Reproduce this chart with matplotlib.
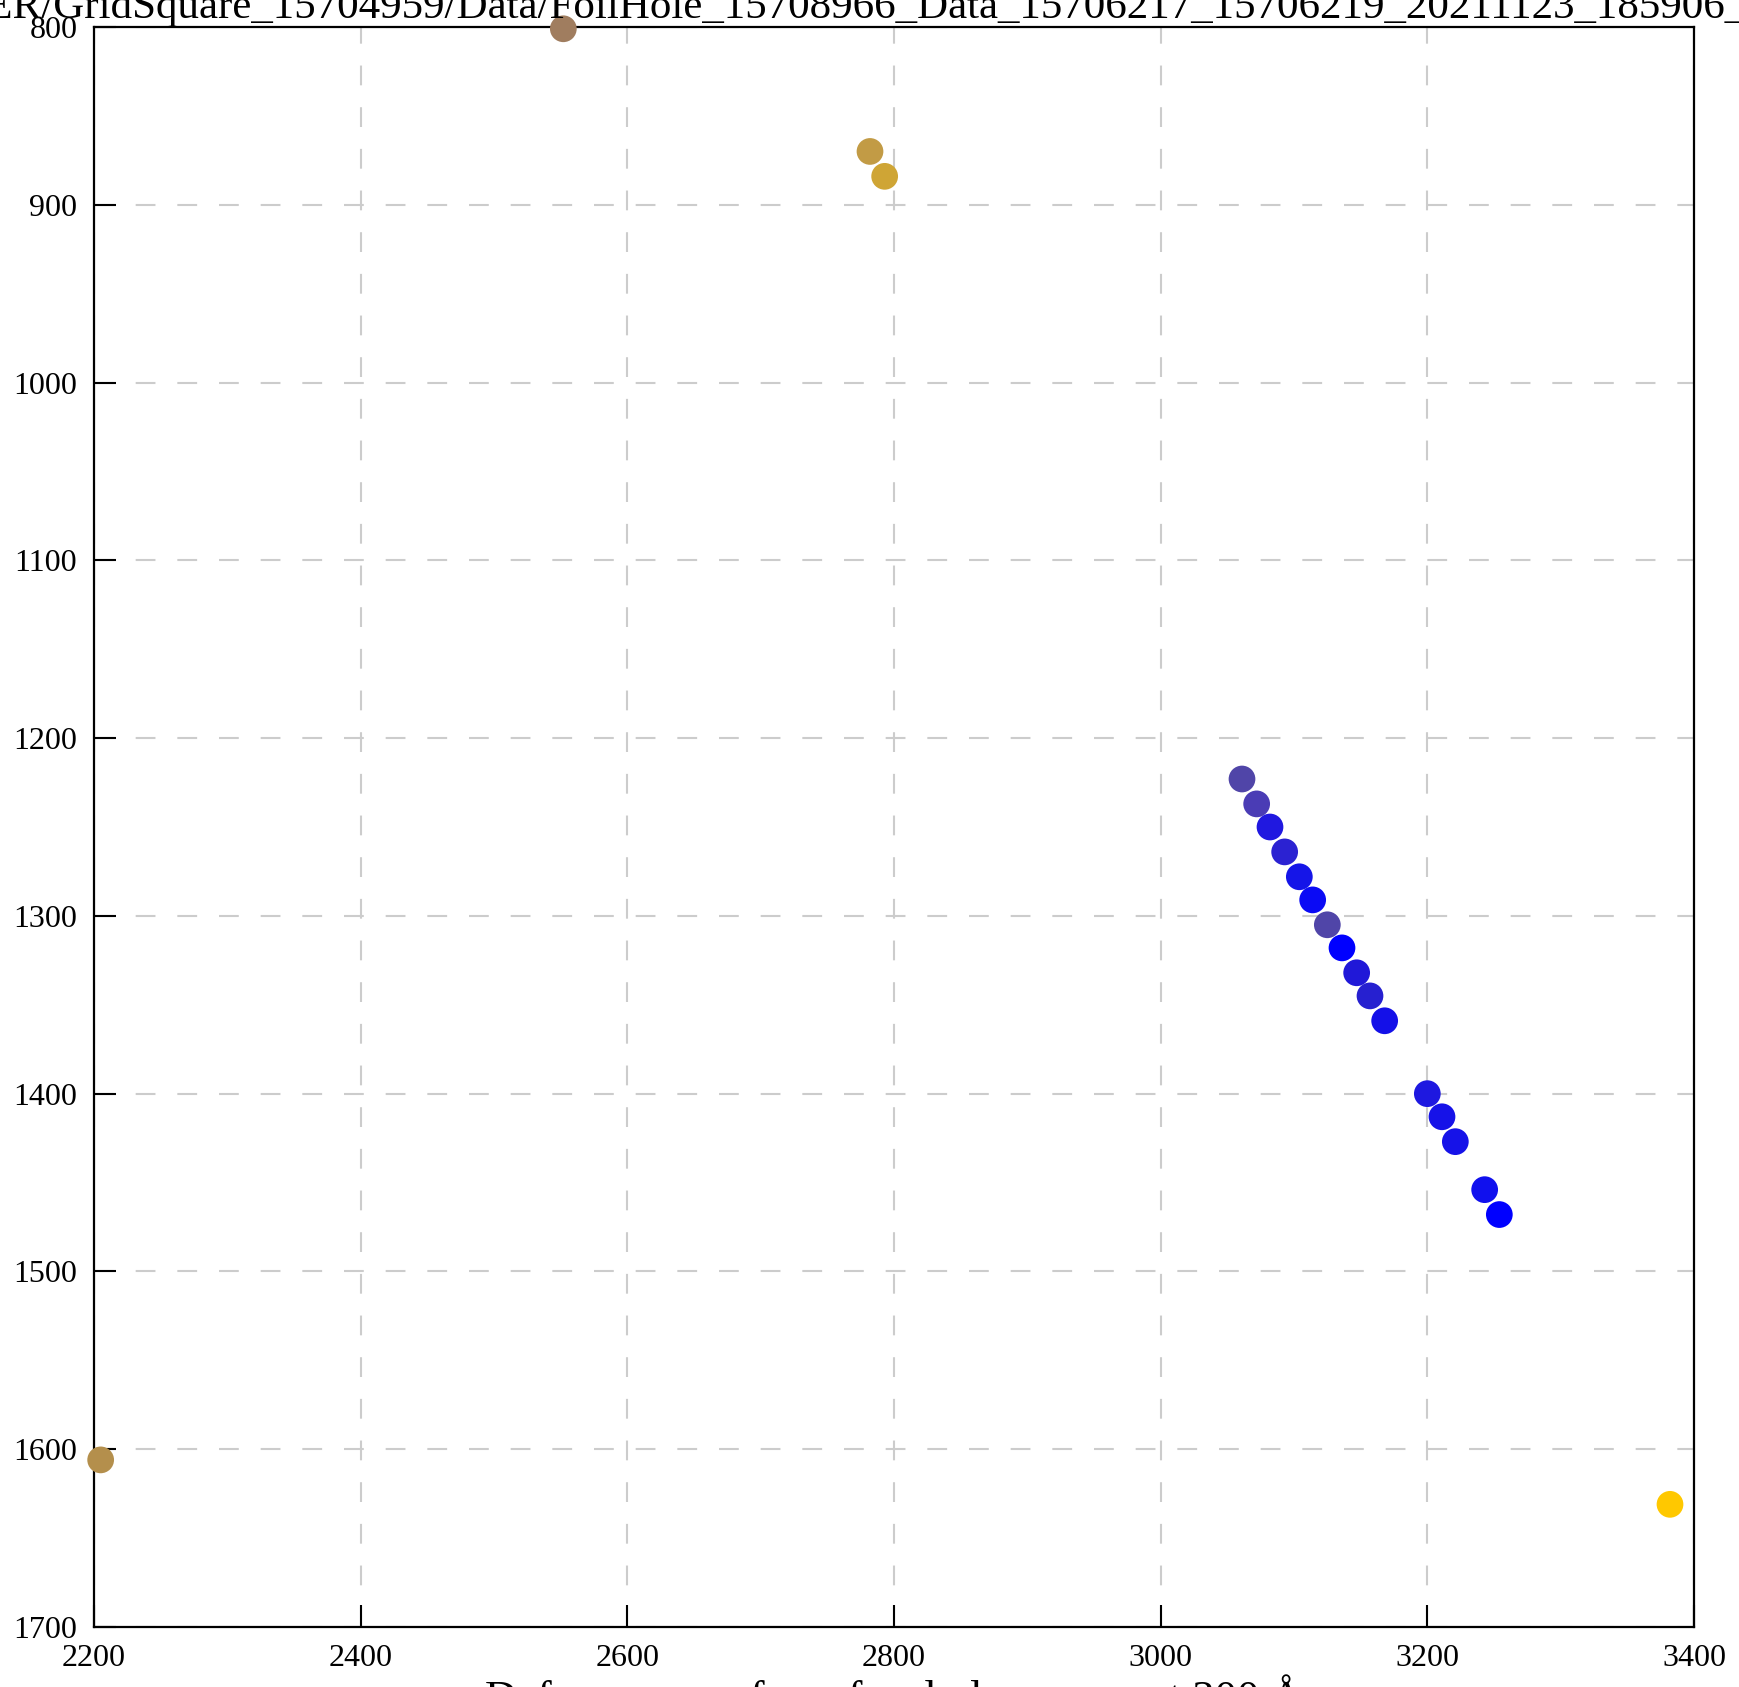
import matplotlib
matplotlib.use("Agg")
import matplotlib.pyplot as plt

# focal position of each image (x, y in pixels) and its colour
pos_x = [2552, 2782, 2793, 2205, 3382,
         3061, 3072, 3082, 3093, 3104, 3114, 3125, 3136, 3147, 3157, 3168,
         3200, 3211, 3221, 3243, 3254]
pos_y = [801, 870, 884, 1606, 1631,
         1223, 1237, 1250, 1264, 1278, 1291, 1305, 1318, 1332, 1345, 1359,
         1400, 1413, 1427, 1454, 1468]
colours = ["#a07d5f", "#c29b45", "#cfa535", "#b48f4c", "#ffc800",
           "#5045a8", "#4a3cb5", "#2018e0", "#2b22d2", "#1515e8", "#0a0af5",
           "#5045a8", "#0000ff", "#2018d8", "#2620d0", "#1410e8",
           "#1e18e0", "#1612e8", "#1612e8", "#1010ee", "#0000ff"]

title = "EER/GridSquare_15704959/Data/FoilHole_15708966_Data_15706217_15706219_20211123_185906_EER"
xlab = "Defocus away from focal plane nearest 300 \u00c5"

plt.rcParams["font.family"] = ["Liberation Serif", "DejaVu Serif"]

fig = plt.figure(figsize=(17.4, 16.87), dpi=100)
ax = fig.add_axes([94 / 1740, 1 - 1627 / 1687, 1600 / 1740, 1600 / 1687])

ax.scatter(pos_x, pos_y, c=colours, s=370, linewidths=0, zorder=3, clip_on=False)

ax.set_xlim(2200, 3400)
ax.set_ylim(1700, 800)
ax.set_xticks(range(2200, 3401, 200))
ax.set_yticks(range(800, 1701, 100))
ax.grid(True, color="#cccccc", linewidth=1.5, linestyle=(0, (9.5, 10.5)))
ax.set_axisbelow(True)
ax.tick_params(direction="in", length=16, width=1.5, labelsize=23, pad=12)
for sp in ax.spines.values():
    sp.set_linewidth(1.6)

ax.set_title(title, fontsize=31, pad=1)
ax.set_xlabel(xlab, fontsize=32, labelpad=1)

fig.savefig("out.png", dpi=100)
